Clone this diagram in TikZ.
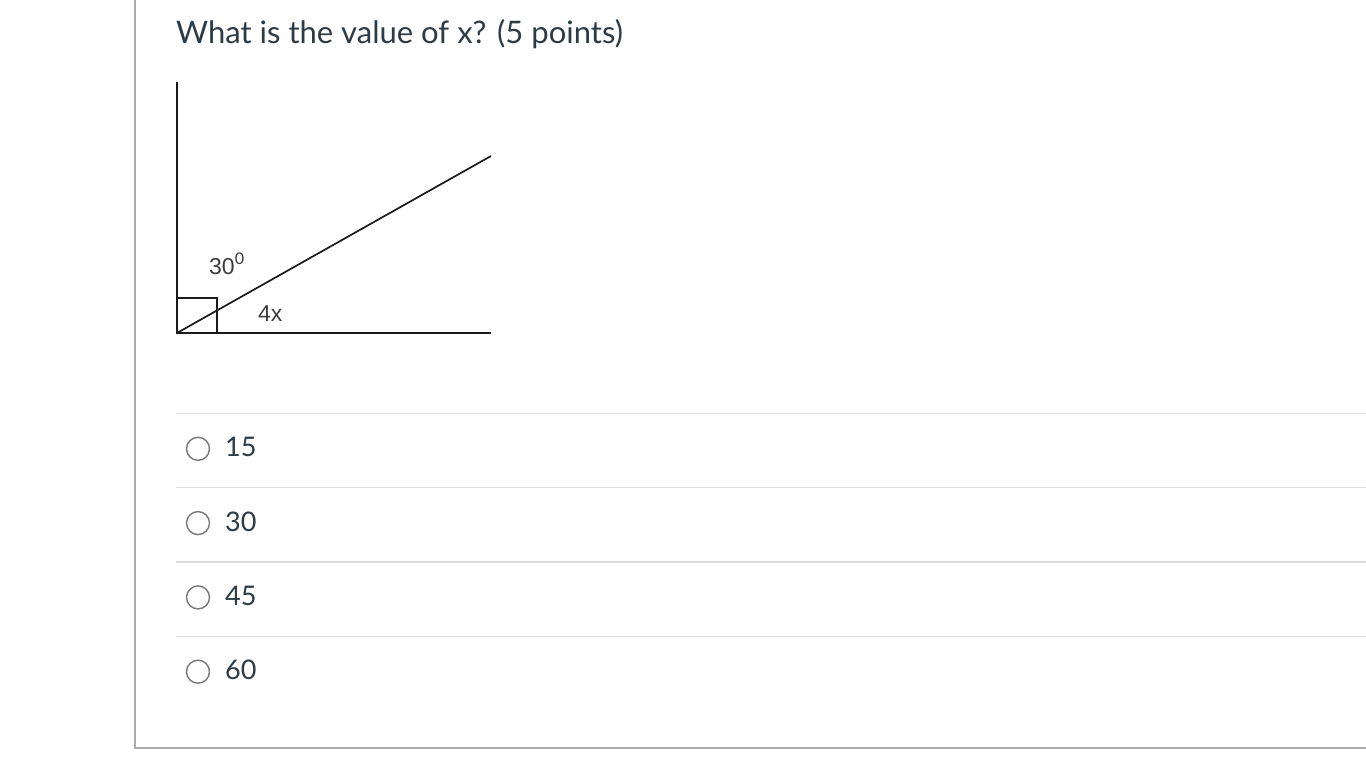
\documentclass[tikz,border=0pt]{standalone}
\usepackage{fontspec}
\setmainfont{Lato}
\newfontfamily\labelfont{Liberation Sans}
\definecolor{inktext}{HTML}{2D3B45}
\definecolor{figline}{HTML}{1A1A1A}
\definecolor{figtext}{HTML}{3C3C3C}
\definecolor{rulegray}{HTML}{DDDDDD}
\definecolor{framegray}{HTML}{ABABAB}
\definecolor{radiogray}{HTML}{777777}

\begin{document}
\begin{tikzpicture}[x=1pt,y=-1pt,
  question/.style={anchor=base west,inner sep=0pt,text=inktext,font=\fontsize{31}{34}\selectfont},
  answer/.style={anchor=base west,inner sep=0pt,text=inktext,font=\fontsize{27}{30}\selectfont},
  radio/.style={circle,draw=radiogray,line width=1.4pt,minimum size=23pt,inner sep=0pt},
  anglelabel/.style={anchor=base west,inner sep=0pt,text=figtext,font=\labelfont\fontsize{23}{25}\selectfont},
  figure line/.style={draw=figline,line width=2pt}]

  \useasboundingbox (0,0) rectangle (1366,768);

  % frame of the question box
  \draw[framegray,line width=2pt] (135,0) -- (135,748) -- (1366,748);

  \node[question] (title) at (176,44) {What is the value of x? (5 points)};

  % the angle figure
  \coordinate (O) at (177,333);
  \coordinate (top) at (177,82);
  \coordinate (right) at (491,333);
  \coordinate (ray) at (491,156);
  \draw[figure line] (top) -- (O) -- (right);
  \draw[figure line,line width=1.7pt] (O) -- (ray);
  \draw[figure line,line width=1.6pt] (177,298) -- (217,298) -- (217,333);
  \node[anglelabel] (upper) at (209,274) {30$^{\mathrm{0}}$};
  \node[anglelabel] (lower) at (258,321) {4x};

  % answer choices
  \foreach \val [count=\i] in {15,30,45,60} {
    \draw[rulegray,line width=1.2pt] (176,339+74.3*\i) -- (1366,339+74.3*\i);
    \node[radio] (radio\i) at (198,374.5+74.3*\i) {};
    \node[answer] (choice\i) at (225,382.5+74.3*\i) {\val};
  }
\end{tikzpicture}
\end{document}
